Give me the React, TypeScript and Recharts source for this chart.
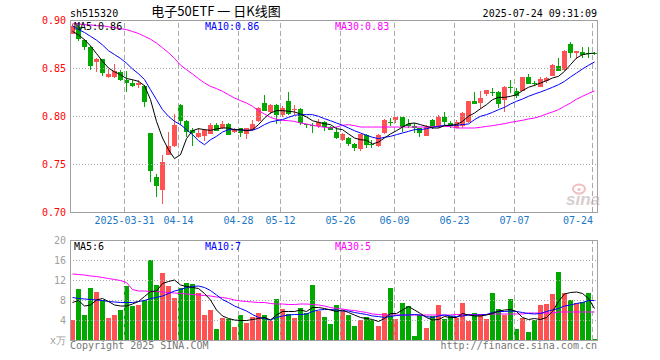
import { ComposedChart, Bar, Line, XAxis, YAxis, ReferenceLine } from 'recharts';

const UP = '#ff5353';
const DOWN = '#00a800';
const GRID = '#aaaaaa';
const FRAME = '#a0a0a0';
const MONO = '"DejaVu Sans Mono", "Liberation Mono", monospace';

// day index of each labelled date, and the label itself
const tickIdx = [9, 18, 28, 35, 45, 54, 64, 74, 87];
const tickLabels = ['2025-03-31', '04-14', '04-28', '05-12', '05-26', '06-09', '06-23', '07-07', '07-24'];

const priceTicks = [0.7, 0.75, 0.8, 0.85, 0.9];
const volTicks = [0, 4, 8, 12, 16, 20];

const open = [
  0.886, 0.893, 0.879, 0.872, 0.856, 0.859, 0.841, 0.841, 0.846, 0.837,
  0.834, 0.832, 0.831, 0.782, 0.736, 0.723, 0.760, 0.769, 0.811, 0.795,
  0.785, 0.778, 0.779, 0.782, 0.791, 0.788, 0.792, 0.783, 0.787, 0.781,
  0.786, 0.794, 0.814, 0.804, 0.811, 0.801, 0.816, 0.806, 0.807, 0.792,
  0.791, 0.790, 0.794, 0.789, 0.783, 0.775, 0.777, 0.771, 0.765, 0.780,
  0.771, 0.769, 0.782, 0.794, 0.796, 0.799, 0.792, 0.790, 0.787, 0.780,
  0.796, 0.789, 0.799, 0.793, 0.788, 0.789, 0.794, 0.816, 0.814, 0.823,
  0.825, 0.825, 0.816, 0.830, 0.826, 0.826, 0.841, 0.834, 0.831, 0.837,
  0.842, 0.852, 0.848, 0.875, 0.866, 0.867, 0.866, 0.866,
];
const high = [
  0.896, 0.895, 0.880, 0.873, 0.860, 0.859, 0.849, 0.854, 0.848, 0.847,
  0.838, 0.837, 0.832, 0.782, 0.740, 0.759, 0.783, 0.802, 0.813, 0.796,
  0.788, 0.788, 0.786, 0.793, 0.793, 0.795, 0.793, 0.788, 0.788, 0.788,
  0.796, 0.809, 0.822, 0.813, 0.813, 0.810, 0.825, 0.811, 0.808, 0.792,
  0.793, 0.797, 0.795, 0.790, 0.789, 0.782, 0.778, 0.772, 0.781, 0.781,
  0.775, 0.781, 0.797, 0.798, 0.799, 0.799, 0.797, 0.793, 0.788, 0.791,
  0.797, 0.801, 0.804, 0.795, 0.796, 0.804, 0.816, 0.825, 0.826, 0.827,
  0.829, 0.826, 0.831, 0.837, 0.829, 0.841, 0.844, 0.836, 0.841, 0.841,
  0.854, 0.860, 0.869, 0.877, 0.868, 0.872, 0.872, 0.867,
];
const low = [
  0.885, 0.878, 0.869, 0.848, 0.846, 0.842, 0.840, 0.840, 0.836, 0.825,
  0.830, 0.829, 0.809, 0.731, 0.716, 0.708, 0.759, 0.768, 0.791, 0.778,
  0.769, 0.777, 0.774, 0.781, 0.784, 0.786, 0.780, 0.782, 0.778, 0.776,
  0.785, 0.794, 0.805, 0.802, 0.792, 0.799, 0.801, 0.801, 0.791, 0.788,
  0.782, 0.788, 0.784, 0.785, 0.776, 0.774, 0.769, 0.764, 0.764, 0.767,
  0.767, 0.768, 0.781, 0.790, 0.793, 0.783, 0.788, 0.782, 0.778, 0.779,
  0.786, 0.788, 0.791, 0.788, 0.787, 0.788, 0.793, 0.812, 0.807, 0.821,
  0.821, 0.808, 0.804, 0.824, 0.819, 0.826, 0.833, 0.831, 0.830, 0.834,
  0.842, 0.847, 0.847, 0.860, 0.859, 0.860, 0.860, 0.864,
];
const close = [
  0.894, 0.881, 0.872, 0.852, 0.859, 0.844, 0.844, 0.847, 0.838, 0.834,
  0.831, 0.834, 0.814, 0.742, 0.727, 0.752, 0.769, 0.791, 0.794, 0.784,
  0.782, 0.782, 0.785, 0.791, 0.785, 0.792, 0.781, 0.786, 0.782, 0.787,
  0.792, 0.808, 0.806, 0.811, 0.801, 0.808, 0.802, 0.807, 0.792, 0.791,
  0.790, 0.794, 0.789, 0.786, 0.777, 0.781, 0.771, 0.767, 0.781, 0.770,
  0.770, 0.780, 0.796, 0.793, 0.799, 0.789, 0.790, 0.788, 0.782, 0.789,
  0.789, 0.799, 0.794, 0.790, 0.794, 0.803, 0.816, 0.813, 0.819, 0.827,
  0.824, 0.812, 0.830, 0.829, 0.821, 0.841, 0.834, 0.833, 0.839, 0.840,
  0.853, 0.847, 0.868, 0.866, 0.868, 0.864, 0.865, 0.865,
];
const ma5 = [
  0.8882, 0.8845, 0.8795, 0.8730, 0.8650, 0.8570, 0.8500, 0.8460, 0.8430, 0.8390,
  0.8378, 0.8361, 0.8316, 0.8170, 0.7944, 0.7771, 0.7649, 0.7556, 0.7597, 0.7764,
  0.7847, 0.7868, 0.7858, 0.7851, 0.7865, 0.7875, 0.7875, 0.7858, 0.7858, 0.7847,
  0.7858, 0.7910, 0.7979, 0.8031, 0.8056, 0.8056, 0.8049, 0.8042, 0.8021, 0.7990,
  0.7951, 0.7934, 0.7920, 0.7910, 0.7868, 0.7858, 0.7813, 0.7771, 0.7753, 0.7747,
  0.7708, 0.7729, 0.7771, 0.7813, 0.7847, 0.7885, 0.7920, 0.7927, 0.7910, 0.7892,
  0.7875, 0.7875, 0.7899, 0.7903, 0.7910, 0.7944, 0.7997, 0.8031, 0.8076, 0.8118,
  0.8170, 0.8194, 0.8194, 0.8205, 0.8222, 0.8264, 0.8299, 0.8319, 0.8344, 0.8368,
  0.8396, 0.8413, 0.8465, 0.8535, 0.8604, 0.8639, 0.8649, 0.8656,
];
const ma10 = [
  0.894, 0.890, 0.887, 0.883, 0.879, 0.874, 0.868, 0.864, 0.860, 0.855,
  0.849, 0.844, 0.838, 0.8274, 0.8170, 0.8066, 0.7997, 0.7944, 0.7910, 0.7858,
  0.7806, 0.7743, 0.7701, 0.7753, 0.7788, 0.7833, 0.7858, 0.7858, 0.7854, 0.7851,
  0.7851, 0.7875, 0.7910, 0.7938, 0.7951, 0.7962, 0.7986, 0.8007, 0.8014, 0.8014,
  0.8014, 0.7997, 0.7972, 0.7951, 0.7927, 0.7903, 0.7875, 0.7847, 0.7823, 0.7799,
  0.7778, 0.7764, 0.7778, 0.7788, 0.7806, 0.7823, 0.7840, 0.7858, 0.7858, 0.7868,
  0.7882, 0.7892, 0.7903, 0.7903, 0.7903, 0.7910, 0.7917, 0.7962, 0.7997, 0.8014,
  0.8038, 0.8066, 0.8090, 0.8125, 0.8153, 0.8177, 0.8205, 0.8229, 0.8250, 0.8274,
  0.8299, 0.8326, 0.8361, 0.8406, 0.8448, 0.8490, 0.8528, 0.8563,
];
const ma30 = [
  0.896, 0.896, 0.895, 0.895, 0.894, 0.894, 0.893, 0.892, 0.891, 0.890,
  0.888, 0.886, 0.883, 0.880, 0.876, 0.871, 0.866, 0.860, 0.853, 0.8483,
  0.8438, 0.8389, 0.8344, 0.8309, 0.8285, 0.8257, 0.8222, 0.8188, 0.8160, 0.8135,
  0.8101, 0.8056, 0.8021, 0.7986, 0.7965, 0.7955, 0.7951, 0.7944, 0.7927, 0.7917,
  0.7903, 0.7892, 0.7882, 0.7875, 0.7885, 0.7903, 0.7910, 0.7899, 0.7885, 0.7885,
  0.7885, 0.7885, 0.7885, 0.7885, 0.7885, 0.7885, 0.7885, 0.7885, 0.7885, 0.7885,
  0.7889, 0.7892, 0.7892, 0.7889, 0.7875, 0.7875, 0.7875, 0.7875, 0.7882, 0.7892,
  0.7899, 0.7910, 0.7920, 0.7934, 0.7944, 0.7955, 0.7969, 0.7979, 0.7997, 0.8021,
  0.8042, 0.8066, 0.8101, 0.8135, 0.8175, 0.8205, 0.8235, 0.8262,
];

// volume, in 10k lots
const volume = [
  4.0, 10.3, 5.0, 10.5, 9.6, 8.0, 4.5, 5.0, 6.0, 10.8,
  6.8, 7.0, 8.0, 16.1, 11.0, 13.5, 10.8, 8.5, 10.5, 11.5,
  11.2, 9.5, 5.0, 6.0, 2.2, 4.5, 4.3, 2.7, 5.0, 3.5,
  4.7, 5.5, 5.0, 3.9, 8.2, 6.2, 5.3, 4.5, 6.5, 5.5,
  11.0, 5.9, 4.7, 3.2, 7.0, 5.8, 5.0, 2.8, 4.1, 4.7,
  4.1, 2.8, 5.5, 10.5, 4.2, 7.5, 6.8, 0.7, 5.0, 2.5,
  4.8, 7.0, 4.3, 4.8, 4.5, 7.5, 3.9, 5.5, 5.0, 4.2,
  9.5, 6.2, 5.0, 8.2, 2.2, 4.5, 1.7, 4.0, 7.0, 7.2,
  9.2, 13.7, 9.5, 8.0, 7.5, 7.7, 9.5, 0.2,
];
const vma5 = [
  7.5, 7.9, 6.8, 7.0, 8.0, 8.3, 7.7, 7.0, 6.8, 6.8,
  7.2, 7.7, 8.7, 9.7, 9.8, 11.3, 11.7, 12.0, 11.0, 10.7,
  10.5, 10.3, 9.3, 8.0, 6.0, 4.8, 4.3, 4.0, 3.9, 3.9,
  4.1, 4.3, 4.5, 4.0, 5.0, 5.7, 5.7, 5.7, 6.0, 5.7,
  6.5, 6.5, 6.3, 6.0, 5.7, 6.0, 5.5, 5.0, 4.5, 4.3,
  4.1, 3.7, 4.3, 5.3, 5.3, 6.0, 6.7, 6.0, 5.3, 4.5,
  4.0, 4.1, 4.7, 4.5, 4.5, 5.3, 5.0, 4.8, 4.8, 5.0,
  5.3, 5.8, 6.0, 6.1, 5.7, 4.5, 4.1, 4.3, 4.1, 4.5,
  5.7, 7.7, 9.2, 9.5, 9.6, 9.3, 8.3, 6.3,
];
const vma10 = [
  8.5, 8.3, 8.2, 8.1, 8.0, 7.9, 7.7, 7.6, 7.5, 7.5,
  7.5, 7.7, 7.9, 8.3, 8.5, 8.8, 9.3, 9.8, 10.1, 10.5,
  10.7, 10.8, 10.5, 9.9, 9.0, 8.1, 7.5, 6.8, 6.3, 5.8,
  5.1, 4.5, 4.3, 4.0, 4.5, 4.8, 5.0, 5.1, 5.1, 5.2,
  5.7, 6.0, 6.1, 6.1, 6.0, 5.8, 5.8, 5.5, 5.3, 5.1,
  4.8, 4.7, 4.5, 4.7, 4.9, 5.0, 5.0, 5.1, 5.0, 4.7,
  4.5, 4.8, 5.0, 4.8, 4.7, 4.8, 5.0, 5.0, 5.0, 5.1,
  5.5, 5.7, 5.7, 5.8, 5.7, 5.5, 5.3, 5.2, 5.3, 5.7,
  6.0, 6.3, 6.8, 7.0, 7.3, 7.5, 7.9, 7.9,
];
const vma30 = [
  13.2, 13.1, 13.0, 12.8, 12.7, 12.5, 12.3, 12.1, 11.9, 11.5,
  10.1, 9.8, 9.8, 9.7, 9.7, 9.6, 9.5, 9.4, 9.3, 9.2,
  9.1, 9.0, 8.9, 8.8, 8.6, 8.5, 8.3, 8.0, 7.8, 7.7,
  7.6, 7.5, 7.5, 7.3, 7.2, 7.2, 7.1, 7.1, 7.2, 7.2,
  7.1, 7.0, 6.8, 6.5, 6.3, 6.2, 6.0, 5.9, 5.7, 5.5,
  5.2, 5.1, 5.0, 5.0, 5.0, 5.0, 5.0, 5.0, 5.0, 5.0,
  5.0, 5.0, 5.0, 5.0, 5.1, 5.1, 5.1, 5.1, 5.1, 5.1,
  5.2, 5.2, 5.2, 5.2, 5.2, 5.2, 5.4, 5.4, 5.4, 5.4,
  5.4, 5.6, 5.6, 5.6, 5.6, 5.6, 5.6, 5.6,
];

const rows = open.map((o, i) => ({
  i,
  o,
  h: high[i],
  l: low[i],
  c: close[i],
  vol: volume[i],
  ma5: ma5[i],
  ma10: ma10[i],
  ma30: ma30[i],
  vma5: vma5[i],
  vma10: vma10[i],
  vma30: vma30[i],
}));

// 6px per trading day, first candle centred 2.5px inside the frame
const xDomain: [number, number] = [-2.5 / 6, 524.5 / 6];
// the dashed date lines sit 2px left of the candle centre
const tickPos = tickIdx.map((i) => i - 1 / 3);

const Candle = (props: any) => {
  const { x, y, width, height, payload } = props;
  const { o, h, l, c } = payload;
  const k = h > l ? height / (h - l) : 0;
  const yo = y + (h - o) * k;
  const yc = y + (h - c) * k;
  const color = c >= o ? UP : DOWN;
  const left = Math.round(x + width / 2 - 2.5);
  const top = Math.round(Math.min(yo, yc));
  const bh = Math.max(1, Math.round(Math.abs(yo - yc)));
  return (
    <g shapeRendering="crispEdges">
      <line x1={left + 2.5} x2={left + 2.5} y1={Math.round(y)} y2={Math.round(y + height)} stroke={color} />
      <rect x={left} y={top} width={5} height={bh} fill={color} />
    </g>
  );
};

const VolBar = (props: any) => {
  const { x, y, width, height, payload } = props;
  const left = Math.round(x + width / 2 - 2.5);
  const top = Math.round(y);
  return (
    <rect
      x={left}
      y={top}
      width={5}
      height={Math.round(y + height) - top}
      fill={payload.c >= payload.o ? UP : DOWN}
      shapeRendering="crispEdges"
    />
  );
};

const DateTick = (props: any) => {
  const { x, y, payload } = props;
  const idx = Math.round(payload.value + 1 / 3);
  const n = tickIdx.indexOf(idx);
  const last = n === tickIdx.length - 1;
  return (
    <text
      x={last ? x + 0.5 : x}
      y={y}
      dy="0.71em"
      textAnchor={last ? 'end' : 'middle'}
      fill="#1b78c6"
      fontSize={10}
      fontFamily={MONO}
    >
      {tickLabels[n]}
    </text>
  );
};

const frame = (top: number, height: number) => (
  <div
    style={{
      position: 'absolute',
      left: 70,
      top,
      width: 528,
      height,
      border: `1px solid ${FRAME}`,
      boxSizing: 'border-box',
      pointerEvents: 'none',
    }}
  />
);

export default function App() {
  return (
    <div
      style={{
        position: 'fixed',
        left: 0,
        top: 0,
        width: 660,
        height: 360,
        background: '#fff',
        overflow: 'hidden',
      }}
    >
      <div style={{ position: 'absolute', left: 0, top: 0 }}>
        <ComposedChart width={660} height={360} data={rows} margin={{ top: 20, right: 63, bottom: 130, left: 0 }}>
          <XAxis
            dataKey="i"
            type="number"
            domain={xDomain}
            allowDataOverflow
            ticks={tickPos}
            interval={0}
            height={18}
            axisLine={false}
            tickLine={false}
            tickSize={0}
            tickMargin={5}
            tick={<DateTick />}
          />
          <YAxis
            domain={[0.7, 0.9]}
            allowDataOverflow
            ticks={priceTicks}
            width={70}
            axisLine={false}
            tickLine={false}
            tickSize={0}
            tickMargin={4}
            tickFormatter={(v: number) => v.toFixed(2)}
            tick={{ fill: '#ff0000', fontSize: 10, fontFamily: MONO }}
          />
          {[0.75, 0.8, 0.85].map((v) => (
            <ReferenceLine key={v} y={v} stroke={GRID} strokeDasharray="1 2" shapeRendering="crispEdges" />
          ))}
          {tickPos.map((v) => (
            <ReferenceLine key={v} x={v} stroke={GRID} strokeDasharray="5 3" shapeRendering="crispEdges" />
          ))}
          <Bar dataKey={(d: any) => [d.l, d.h]} barSize={5} shape={<Candle />} isAnimationActive={false} />
          <Line dataKey="ma30" stroke="#ff00ff" strokeWidth={1} dot={false} isAnimationActive={false} />
          <Line dataKey="ma10" stroke="#0000ff" strokeWidth={1} dot={false} isAnimationActive={false} />
          <Line dataKey="ma5" stroke="#000000" strokeWidth={1} dot={false} isAnimationActive={false} />
        </ComposedChart>
      </div>
      <div style={{ position: 'absolute', left: 0, top: 0 }}>
        <ComposedChart width={660} height={360} data={rows} margin={{ top: 240, right: 63, bottom: 20, left: 0 }}>
          <XAxis dataKey="i" type="number" domain={xDomain} allowDataOverflow hide />
          <YAxis
            domain={[0, 20]}
            allowDataOverflow
            ticks={volTicks}
            width={70}
            axisLine={false}
            tickLine={false}
            tickSize={0}
            tickMargin={4}
            tickFormatter={(v: number) => (v === 0 ? 'x万' : String(v))}
            tick={{ fill: '#a0a0a0', fontSize: 10, fontFamily: MONO }}
          />
          {[4, 8, 12, 16].map((v) => (
            <ReferenceLine key={v} y={v} stroke={GRID} strokeDasharray="1 2" shapeRendering="crispEdges" />
          ))}
          {tickPos.map((v) => (
            <ReferenceLine key={v} x={v} stroke={GRID} strokeDasharray="5 3" shapeRendering="crispEdges" />
          ))}
          <Bar dataKey="vol" barSize={5} shape={<VolBar />} isAnimationActive={false} />
          <Line dataKey="vma30" stroke="#ff00ff" strokeWidth={1} dot={false} isAnimationActive={false} />
          <Line dataKey="vma10" stroke="#0000ff" strokeWidth={1} dot={false} isAnimationActive={false} />
          <Line dataKey="vma5" stroke="#000000" strokeWidth={1} dot={false} isAnimationActive={false} />
        </ComposedChart>
      </div>
      {frame(20, 193)}
      {frame(240, 101)}
      <svg width={660} height={360} style={{ position: 'absolute', left: 0, top: 0, pointerEvents: 'none' }}>
        <g fontFamily={MONO} fontSize={10}>
          <text x={70} y={16.5} fill="#000">sh515320</text>
          <text x={597} y={16.5} fill="#000" textAnchor="end">2025-07-24 09:31:09</text>
          <text x={74} y={30} fill="#000">MA5:0.86</text>
          <text x={205} y={30} fill="#0000ff">MA10:0.86</text>
          <text x={335} y={30} fill="#ff00ff">MA30:0.83</text>
          <text x={74} y={250} fill="#000">MA5:6</text>
          <text x={205} y={250} fill="#0000ff">MA10:7</text>
          <text x={335} y={250} fill="#ff00ff">MA30:5</text>
          <text x={70} y={349} fill="#777">Copyright 2025 SINA.COM</text>
          <text x={597} y={349} fill="#777" textAnchor="end">http://finance.sina.com.cn</text>
        </g>
        <text x={216} y={16} textAnchor="middle" fontSize={13} fontFamily='"Noto Sans CJK SC", sans-serif' fill="#000">
          电子50ETF 一 日K线图
        </text>
        <g opacity={0.55}>
          <ellipse cx={579} cy={189} rx={6} ry={4.5} fill="none" stroke="#e88a8a" strokeWidth={2} />
          <circle cx={579} cy={189.5} r={1.6} fill="#e88a8a" />
          <text x={566} y={205} fontSize={17} fontStyle="italic" fontWeight="bold" fontFamily='"Liberation Sans", Arial, sans-serif' fill="#b8a8a8">
            sina
          </text>
        </g>
      </svg>
    </div>
  );
}
